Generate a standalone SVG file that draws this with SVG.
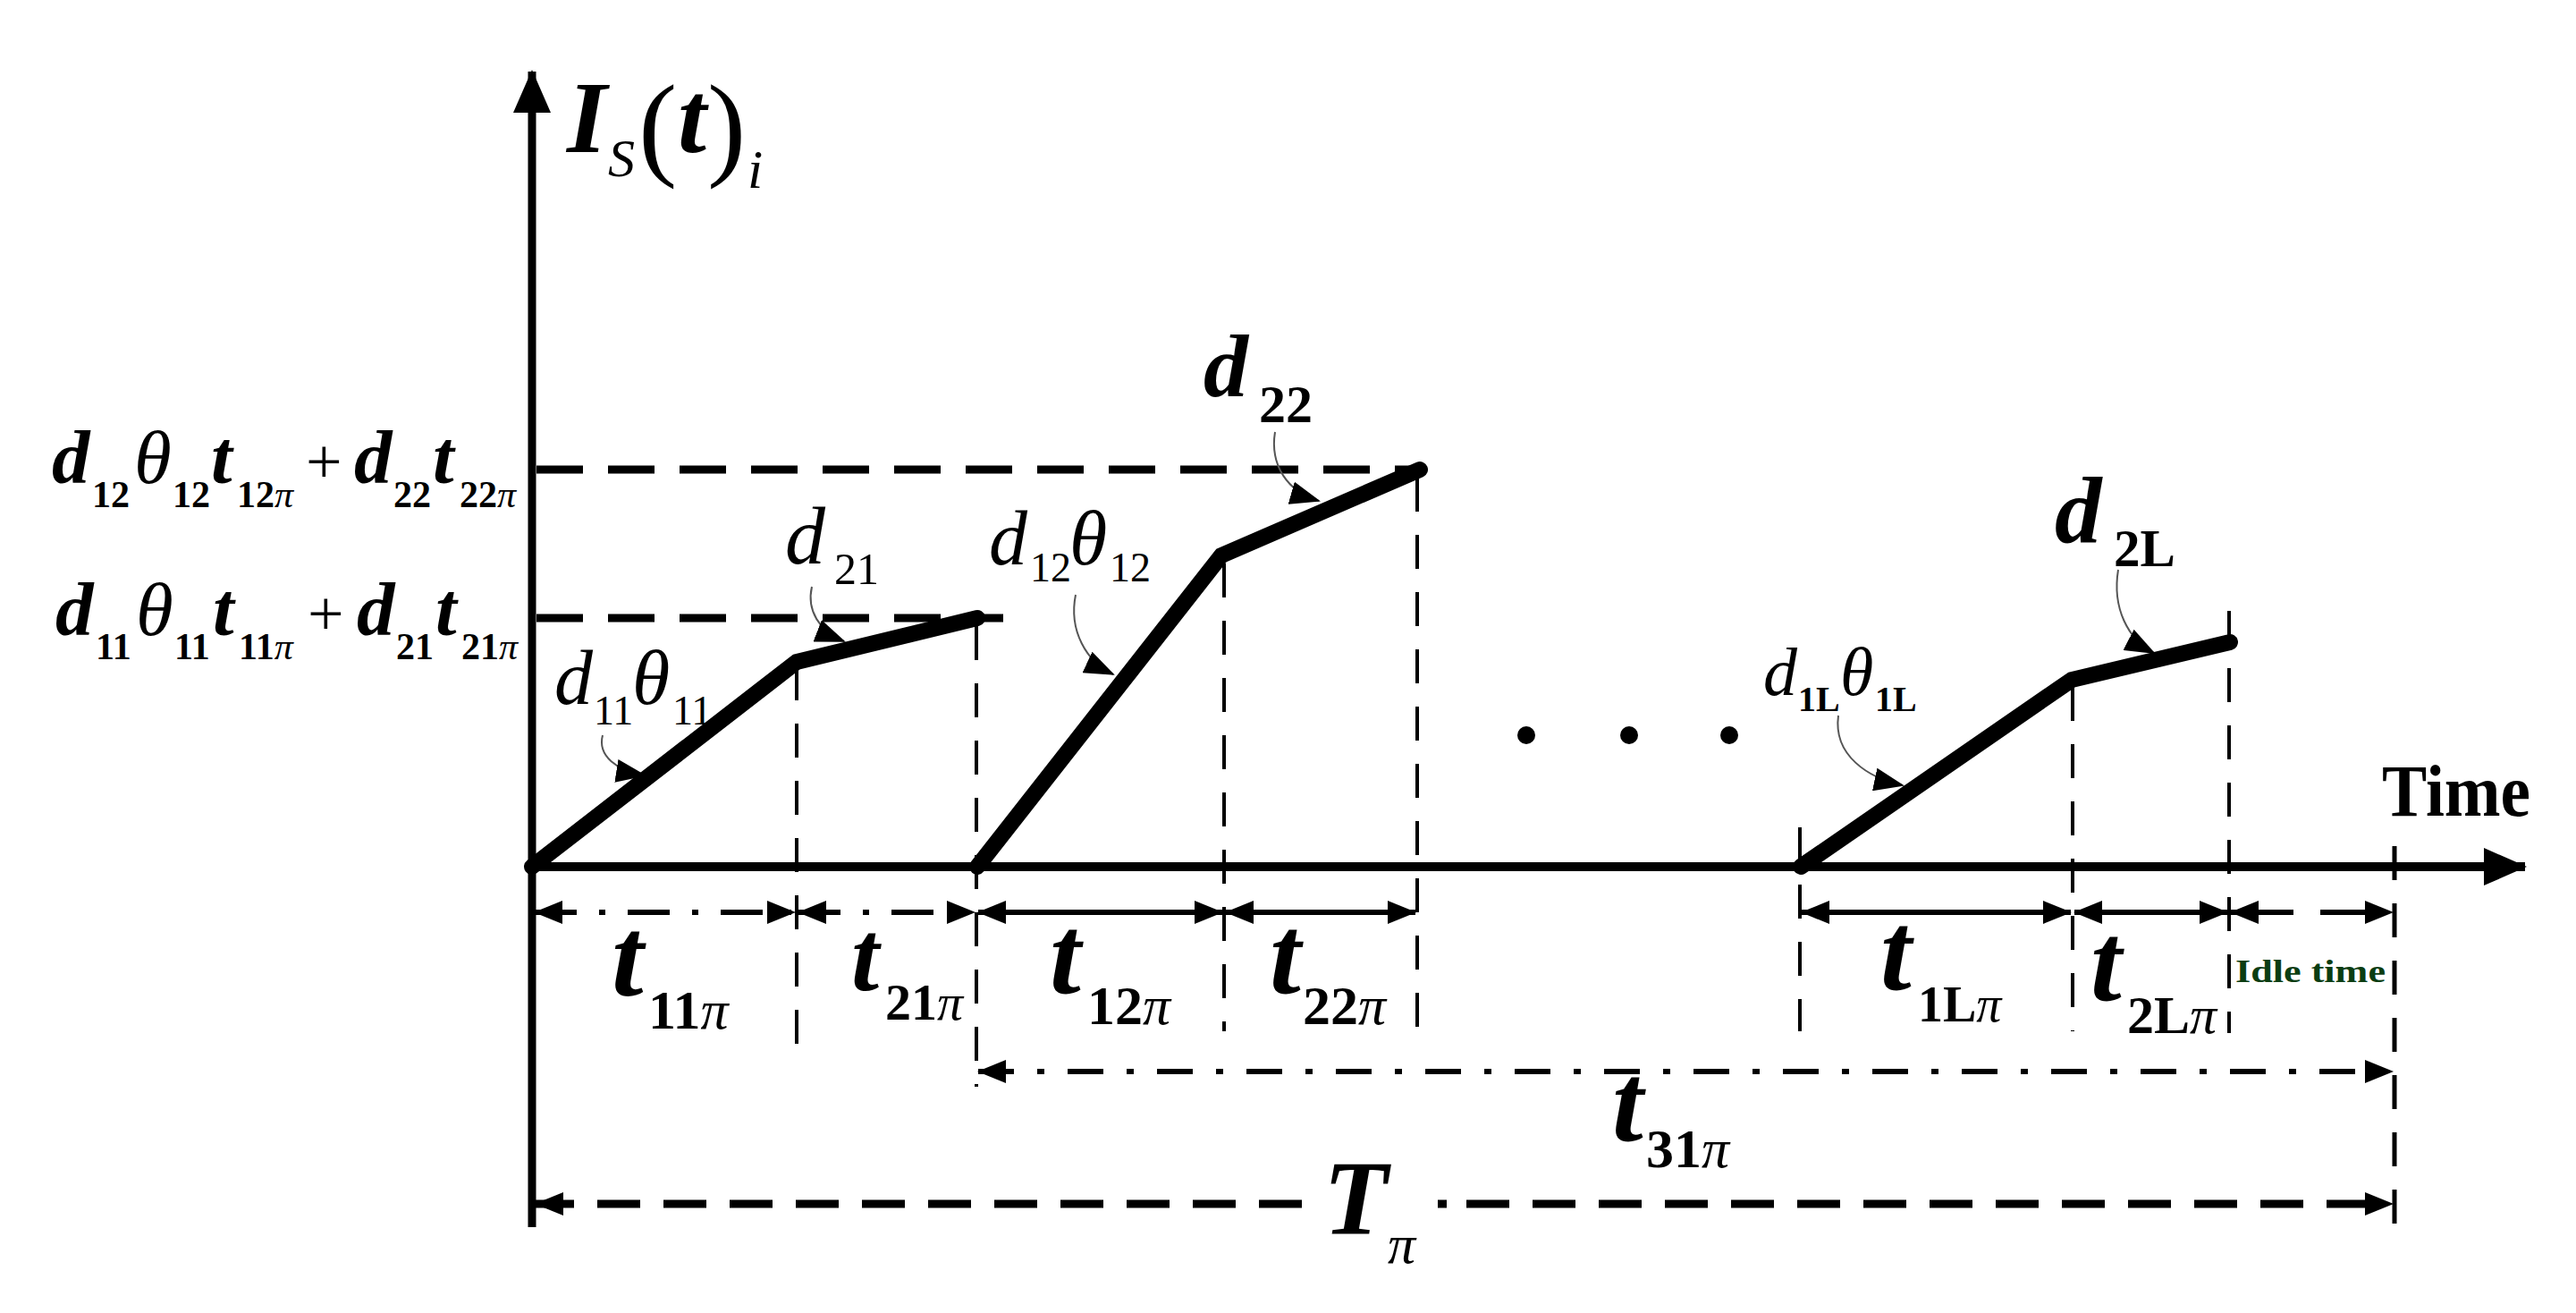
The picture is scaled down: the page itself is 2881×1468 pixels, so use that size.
<svg xmlns="http://www.w3.org/2000/svg" width="2881" height="1468" viewBox="0 0 2881 1468">
<style>
text{font-family:"Liberation Serif","Times New Roman",serif;fill:#000}
.bi{font-weight:bold;font-style:italic}
.it{font-style:italic}
.b{font-weight:bold}
.rg{font-style:normal;font-weight:normal}
.ramp{fill:none;stroke:#000;stroke-width:18;stroke-linecap:round;stroke-linejoin:miter}
.lvl{stroke:#000;stroke-width:9;stroke-dasharray:52 28;fill:none}
.vd{stroke:#000;stroke-width:4;stroke-dasharray:38 26;fill:none}
.dim{stroke:#000;stroke-width:6;fill:none;marker-start:url(#ah);marker-end:url(#ah)}
.dd{stroke-dasharray:47 25 7 25}
.ds{stroke-dasharray:70 30}
.lead{fill:none;stroke:#555;stroke-width:2;marker-end:url(#lh)}
.tp{stroke:#000;stroke-width:9;fill:none}
</style>
<defs>
<marker id="ah" markerUnits="userSpaceOnUse" markerWidth="32" markerHeight="26" refX="31" refY="13" orient="auto-start-reverse"><path d="M0,0 L32,13 L0,26 z" fill="#000"/></marker>
<marker id="lh" markerUnits="userSpaceOnUse" markerWidth="34" markerHeight="26" refX="32" refY="13" orient="auto"><path d="M0,0 L34,13 L0,26 z" fill="#000"/></marker>
<marker id="axh" markerUnits="userSpaceOnUse" markerWidth="48" markerHeight="42" refX="46" refY="21" orient="auto"><path d="M0,0 L48,21 L0,42 z" fill="#000"/></marker>
</defs>
<rect width="2881" height="1468" fill="#fff"/>

<g id="axes">
<line x1="595" y1="1372" x2="595" y2="80" stroke="#000" stroke-width="9" marker-end="url(#axh)"/>
<line x1="591" y1="969" x2="2824" y2="969" stroke="#000" stroke-width="10" marker-end="url(#axh)"/>
</g>

<g id="connectors">
<line class="lvl" x1="600" y1="525" x2="1586" y2="525"/>
<line class="lvl" x1="600" y1="691" x2="1122" y2="691"/>
<line class="vd" x1="891" y1="745" x2="891" y2="1179"/>
<line class="vd" x1="1092" y1="700" x2="1092" y2="1215"/>
<line class="vd" x1="1369" y1="630" x2="1369" y2="1153"/>
<line class="vd" x1="1585" y1="534" x2="1585" y2="1153"/>
<line class="vd" x1="2013" y1="925" x2="2013" y2="1153"/>
<line class="vd" x1="2318" y1="768" x2="2318" y2="1153"/>
<line class="vd" x1="2493" y1="683" x2="2493" y2="1155"/>
<line class="vd" x1="2678" y1="946" x2="2678" y2="1372" style="stroke-width:5"/>
<line class="dim dd" x1="598" y1="1020" x2="889" y2="1020"/>
<line class="dim dd" x1="893" y1="1020" x2="1090" y2="1020"/>
<line class="dim" x1="1094" y1="1020" x2="1367" y2="1020"/>
<line class="dim" x1="1371" y1="1020" x2="1583" y2="1020"/>
<line class="dim" x1="2015" y1="1020" x2="2316" y2="1020"/>
<line class="dim" x1="2320" y1="1020" x2="2491" y2="1020"/>
<line class="dim ds" x1="2495" y1="1020" x2="2676" y2="1020"/>
<line class="dim" x1="1094" y1="1198" x2="2676" y2="1198" style="stroke-dasharray:40 26 8 26"/>
<line class="tp" x1="1456" y1="1346" x2="599" y2="1346" stroke-dasharray="48 26" marker-end="url(#ah)"/>
<line class="tp" x1="1608" y1="1346" x2="1618" y2="1346"/>
<line class="tp" x1="1640" y1="1346" x2="2676" y2="1346" stroke-dasharray="48 26" marker-end="url(#ah)"/>
<path class="lead" d="M674,822 C668,845 690,862 721,867"/>
<path class="lead" d="M908,656 C902,682 916,706 944,717"/>
<path class="lead" d="M1203,665 C1195,705 1215,740 1245,754"/>
<path class="lead" d="M1426,483 C1420,520 1440,550 1475,560"/>
<path class="lead" d="M2056,800 C2050,845 2090,870 2128,878"/>
<path class="lead" d="M2369,637 C2362,680 2380,715 2409,730"/>
</g>

<g id="ramps">
<polyline class="ramp" points="595,969 891,740 1093,691"/>
<polyline class="ramp" points="1093,969 1366,621 1588,525"/>
<polyline class="ramp" points="2014,969 2317,760 2494,718"/>
</g>

<g id="dots">
<circle cx="1707" cy="822" r="10"/>
<circle cx="1822" cy="822" r="10"/>
<circle cx="1934" cy="822" r="10"/>
</g>

<g id="label-axis-y">
<text><tspan class="bi" x="634" y="170" font-size="115">I</tspan><tspan class="it" x="680" y="197" font-size="60">S</tspan><tspan class="rg" x="714" y="184" font-size="130">(</tspan><tspan class="bi" x="758" y="170" font-size="115">t</tspan><tspan class="rg" x="791" y="184" font-size="130">)</tspan><tspan class="it" x="836" y="210" font-size="62">i</tspan></text>
</g>

<g id="label-level-2">
<text font-size="85"><tspan class="bi" x="58" y="540">d</tspan><tspan class="b" x="103" y="567" font-size="42">12</tspan><tspan class="it" x="150" y="540">θ</tspan><tspan class="b" x="193" y="567" font-size="42">12</tspan><tspan class="bi" x="236" y="540">t</tspan><tspan class="b" x="265" y="567" font-size="42">12</tspan><tspan class="it" font-size="42">π</tspan><tspan class="rg" x="342" y="540" font-size="72">+</tspan><tspan class="bi" x="396" y="540">d</tspan><tspan class="b" x="440" y="567" font-size="42">22</tspan><tspan class="bi" x="484" y="540">t</tspan><tspan class="b" x="514" y="567" font-size="42">22</tspan><tspan class="it" font-size="42">π</tspan></text>
</g>

<g id="label-level-1">
<text font-size="85"><tspan class="bi" x="62" y="710">d</tspan><tspan class="b" x="107" y="737" font-size="42">11</tspan><tspan class="it" x="152" y="710">θ</tspan><tspan class="b" x="195" y="737" font-size="42">11</tspan><tspan class="bi" x="238" y="710">t</tspan><tspan class="b" x="267" y="737" font-size="42">11</tspan><tspan class="it" font-size="42">π</tspan><tspan class="rg" x="344" y="710" font-size="72">+</tspan><tspan class="bi" x="399" y="710">d</tspan><tspan class="b" x="443" y="737" font-size="42">21</tspan><tspan class="bi" x="487" y="710">t</tspan><tspan class="b" x="516" y="737" font-size="42">21</tspan><tspan class="it" font-size="42">π</tspan></text>
</g>

<g id="label-slopes">
<text font-size="86"><tspan class="it" x="620" y="787">d</tspan><tspan class="rg" x="664" y="810" font-size="46">11</tspan><tspan class="it" x="707" y="787">θ</tspan><tspan class="rg" x="752" y="810" font-size="46">11</tspan></text>
<text font-size="90"><tspan class="it" x="878" y="630">d</tspan><tspan class="rg" x="933" y="653" font-size="50">21</tspan></text>
<text font-size="86"><tspan class="it" x="1106" y="631">d</tspan><tspan class="rg" x="1152" y="650" font-size="46">12</tspan><tspan class="it" x="1196" y="631">θ</tspan><tspan class="rg" x="1241" y="650" font-size="46">12</tspan></text>
<text font-size="100"><tspan class="bi" x="1346" y="443">d</tspan><tspan class="b" x="1408" y="472" font-size="60">22</tspan></text>
<text font-size="76"><tspan class="it" x="1972" y="777">d</tspan><tspan class="b" x="2011" y="795" font-size="40">1L</tspan><tspan class="it" x="2058" y="777">θ</tspan><tspan class="b" x="2097" y="795" font-size="40">1L</tspan></text>
<text font-size="105"><tspan class="bi" x="2298" y="607">d</tspan><tspan class="b" x="2364" y="633" font-size="59">2L</tspan></text>
</g>

<g id="label-time">
<text class="b" x="2664" y="912" font-size="82" textLength="166" lengthAdjust="spacingAndGlyphs">Time</text>
<text class="b" x="2500" y="1098" font-size="36" style="fill:#0b3d12" textLength="168" lengthAdjust="spacingAndGlyphs">Idle time</text>
</g>

<g id="label-durations">
<text><tspan class="bi" x="684" y="1113" font-size="128">t</tspan><tspan class="b" x="725" y="1150" font-size="62">11</tspan><tspan class="it" font-size="62">π</tspan></text>
<text><tspan class="bi" x="952" y="1107" font-size="112">t</tspan><tspan class="b" x="990" y="1140" font-size="58">21</tspan><tspan class="it" font-size="58">π</tspan></text>
<text><tspan class="bi" x="1174" y="1110" font-size="125">t</tspan><tspan class="b" x="1216" y="1145" font-size="62">12</tspan><tspan class="it" font-size="62">π</tspan></text>
<text><tspan class="bi" x="1420" y="1110" font-size="125">t</tspan><tspan class="b" x="1457" y="1145" font-size="62">22</tspan><tspan class="it" font-size="62">π</tspan></text>
<text><tspan class="bi" x="2103" y="1106" font-size="125">t</tspan><tspan class="b" x="2145" y="1142" font-size="56">1L</tspan><tspan class="it" font-size="56">π</tspan></text>
<text><tspan class="bi" x="2338" y="1118" font-size="125">t</tspan><tspan class="b" x="2379" y="1155" font-size="60">2L</tspan><tspan class="it" font-size="60">π</tspan></text>
<text><tspan class="bi" x="1803" y="1275" font-size="125">t</tspan><tspan class="b" x="1841" y="1305" font-size="62">31</tspan><tspan class="it" font-size="62">π</tspan></text>
<text><tspan class="bi" x="1480" y="1380" font-size="118">T</tspan><tspan class="it" x="1552" y="1412" font-size="62">π</tspan></text>
</g>
</svg>
